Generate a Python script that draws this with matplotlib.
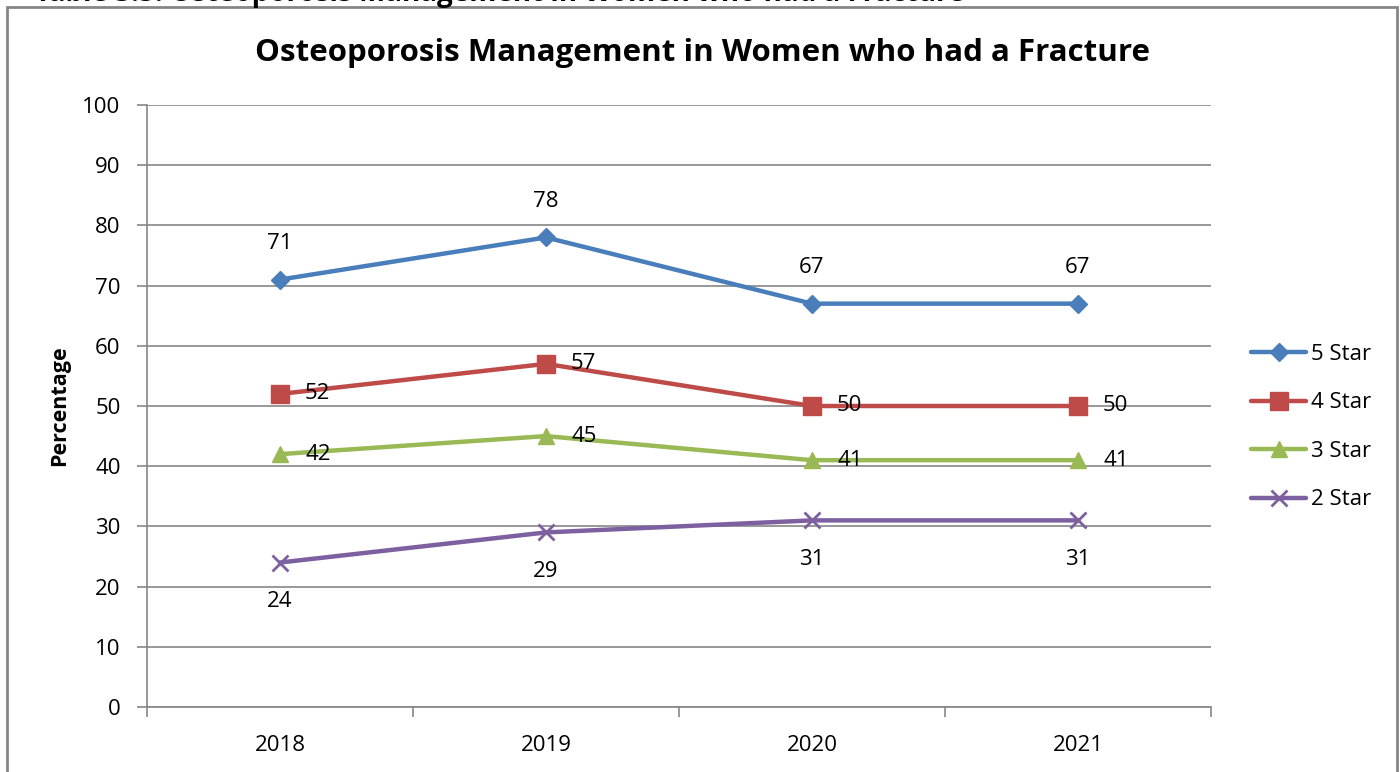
"""
Osteoporosis Management in Women who had a Fracture - line chart
"""
import matplotlib
matplotlib.use('Agg')
import matplotlib.pyplot as plt
from matplotlib.patches import Rectangle

plt.rcParams['font.family'] = ['Open Sans', 'DejaVu Sans']

# 数据
years = ['2018', '2019', '2020', '2021']
star5 = [71, 78, 67, 67]
star4 = [52, 57, 50, 50]
star3 = [42, 45, 41, 41]
star2 = [24, 29, 31, 31]
series_names = ['5 Star', '4 Star', '3 Star', '2 Star']

colors = ['#4A7EBB', '#BE4B48', '#98B954', '#7D60A0']
markers = ['D', 's', '^', 'x']
msizes = [9, 13, 12, 12]
# 标签位置: (dx, dy) in points
label_offsets = [(0, 26), (18, 0), (18, 0), (0, -28)]

fig = plt.figure(figsize=(14, 7.72), dpi=100)
ax = fig.add_axes([0.105, 0.0842, 0.76, 0.7798])

x = list(range(len(years)))
gray = '#868686'
for vals, name, c, m, ms, off in zip([star5, star4, star3, star2], series_names,
                                     colors, markers, msizes, label_offsets):
    ax.plot(x, vals, color=c, lw=3.2, marker=m, markersize=ms,
            markeredgewidth=2 if m == 'x' else 1, markeredgecolor=c,
            label=name, solid_capstyle='round', zorder=3)
    for xi, v in zip(x, vals):
        ha = 'left' if off[0] > 0 else 'center'
        ax.annotate(str(v), (xi, v), xytext=off, textcoords='offset points',
                    ha=ha, va='center', fontsize=16, color='black')

ax.set_xlim(-0.5, len(years) - 0.5)
ax.set_ylim(0, 100)
ax.set_yticks(range(0, 101, 10))
ax.set_xticks(x)
ax.set_xticklabels(years)
ax.set_xticks([i - 0.5 for i in range(len(years) + 1)], minor=True)
ax.tick_params(axis='x', which='major', length=0, pad=20, labelsize=16)
ax.tick_params(axis='x', which='minor', length=7, width=1.2, color=gray, direction='out')
ax.tick_params(axis='y', length=7, width=1.2, color=gray, pad=12, labelsize=16)
ax.grid(axis='y', color=gray, lw=1.2)
ax.set_axisbelow(True)
for s in ['top', 'right']:
    ax.spines[s].set_visible(False)
for s in ['left', 'bottom']:
    ax.spines[s].set_color(gray)
    ax.spines[s].set_linewidth(1.2)

ax.set_ylabel('Percentage', fontsize=15.5, fontweight='bold', labelpad=9)
fig.text(0.502, 0.931, 'Osteoporosis Management in Women who had a Fracture',
         ha='center', va='center', fontsize=22.5, fontweight='bold')

leg = ax.legend(loc='center left', bbox_to_anchor=(1.029, 0.465), frameon=False,
                fontsize=16, handlelength=2.5, handletextpad=0.2,
                labelspacing=1.24, borderaxespad=0)

# 外框
fig.patches.append(Rectangle((0.005, -0.05), 0.993, 1.041, transform=fig.transFigure,
                             fill=False, edgecolor=gray, lw=2))
# 顶部被截断的标题 (只露出底部)
fig.text(0.025, 1 - 1.5 / 772, 'Table 3.5: Osteoporosis Management in Women who had a Fracture',
         ha='left', va='baseline', fontsize=20, fontweight='bold')

plt.savefig('out.png', dpi=100)
plt.close()
